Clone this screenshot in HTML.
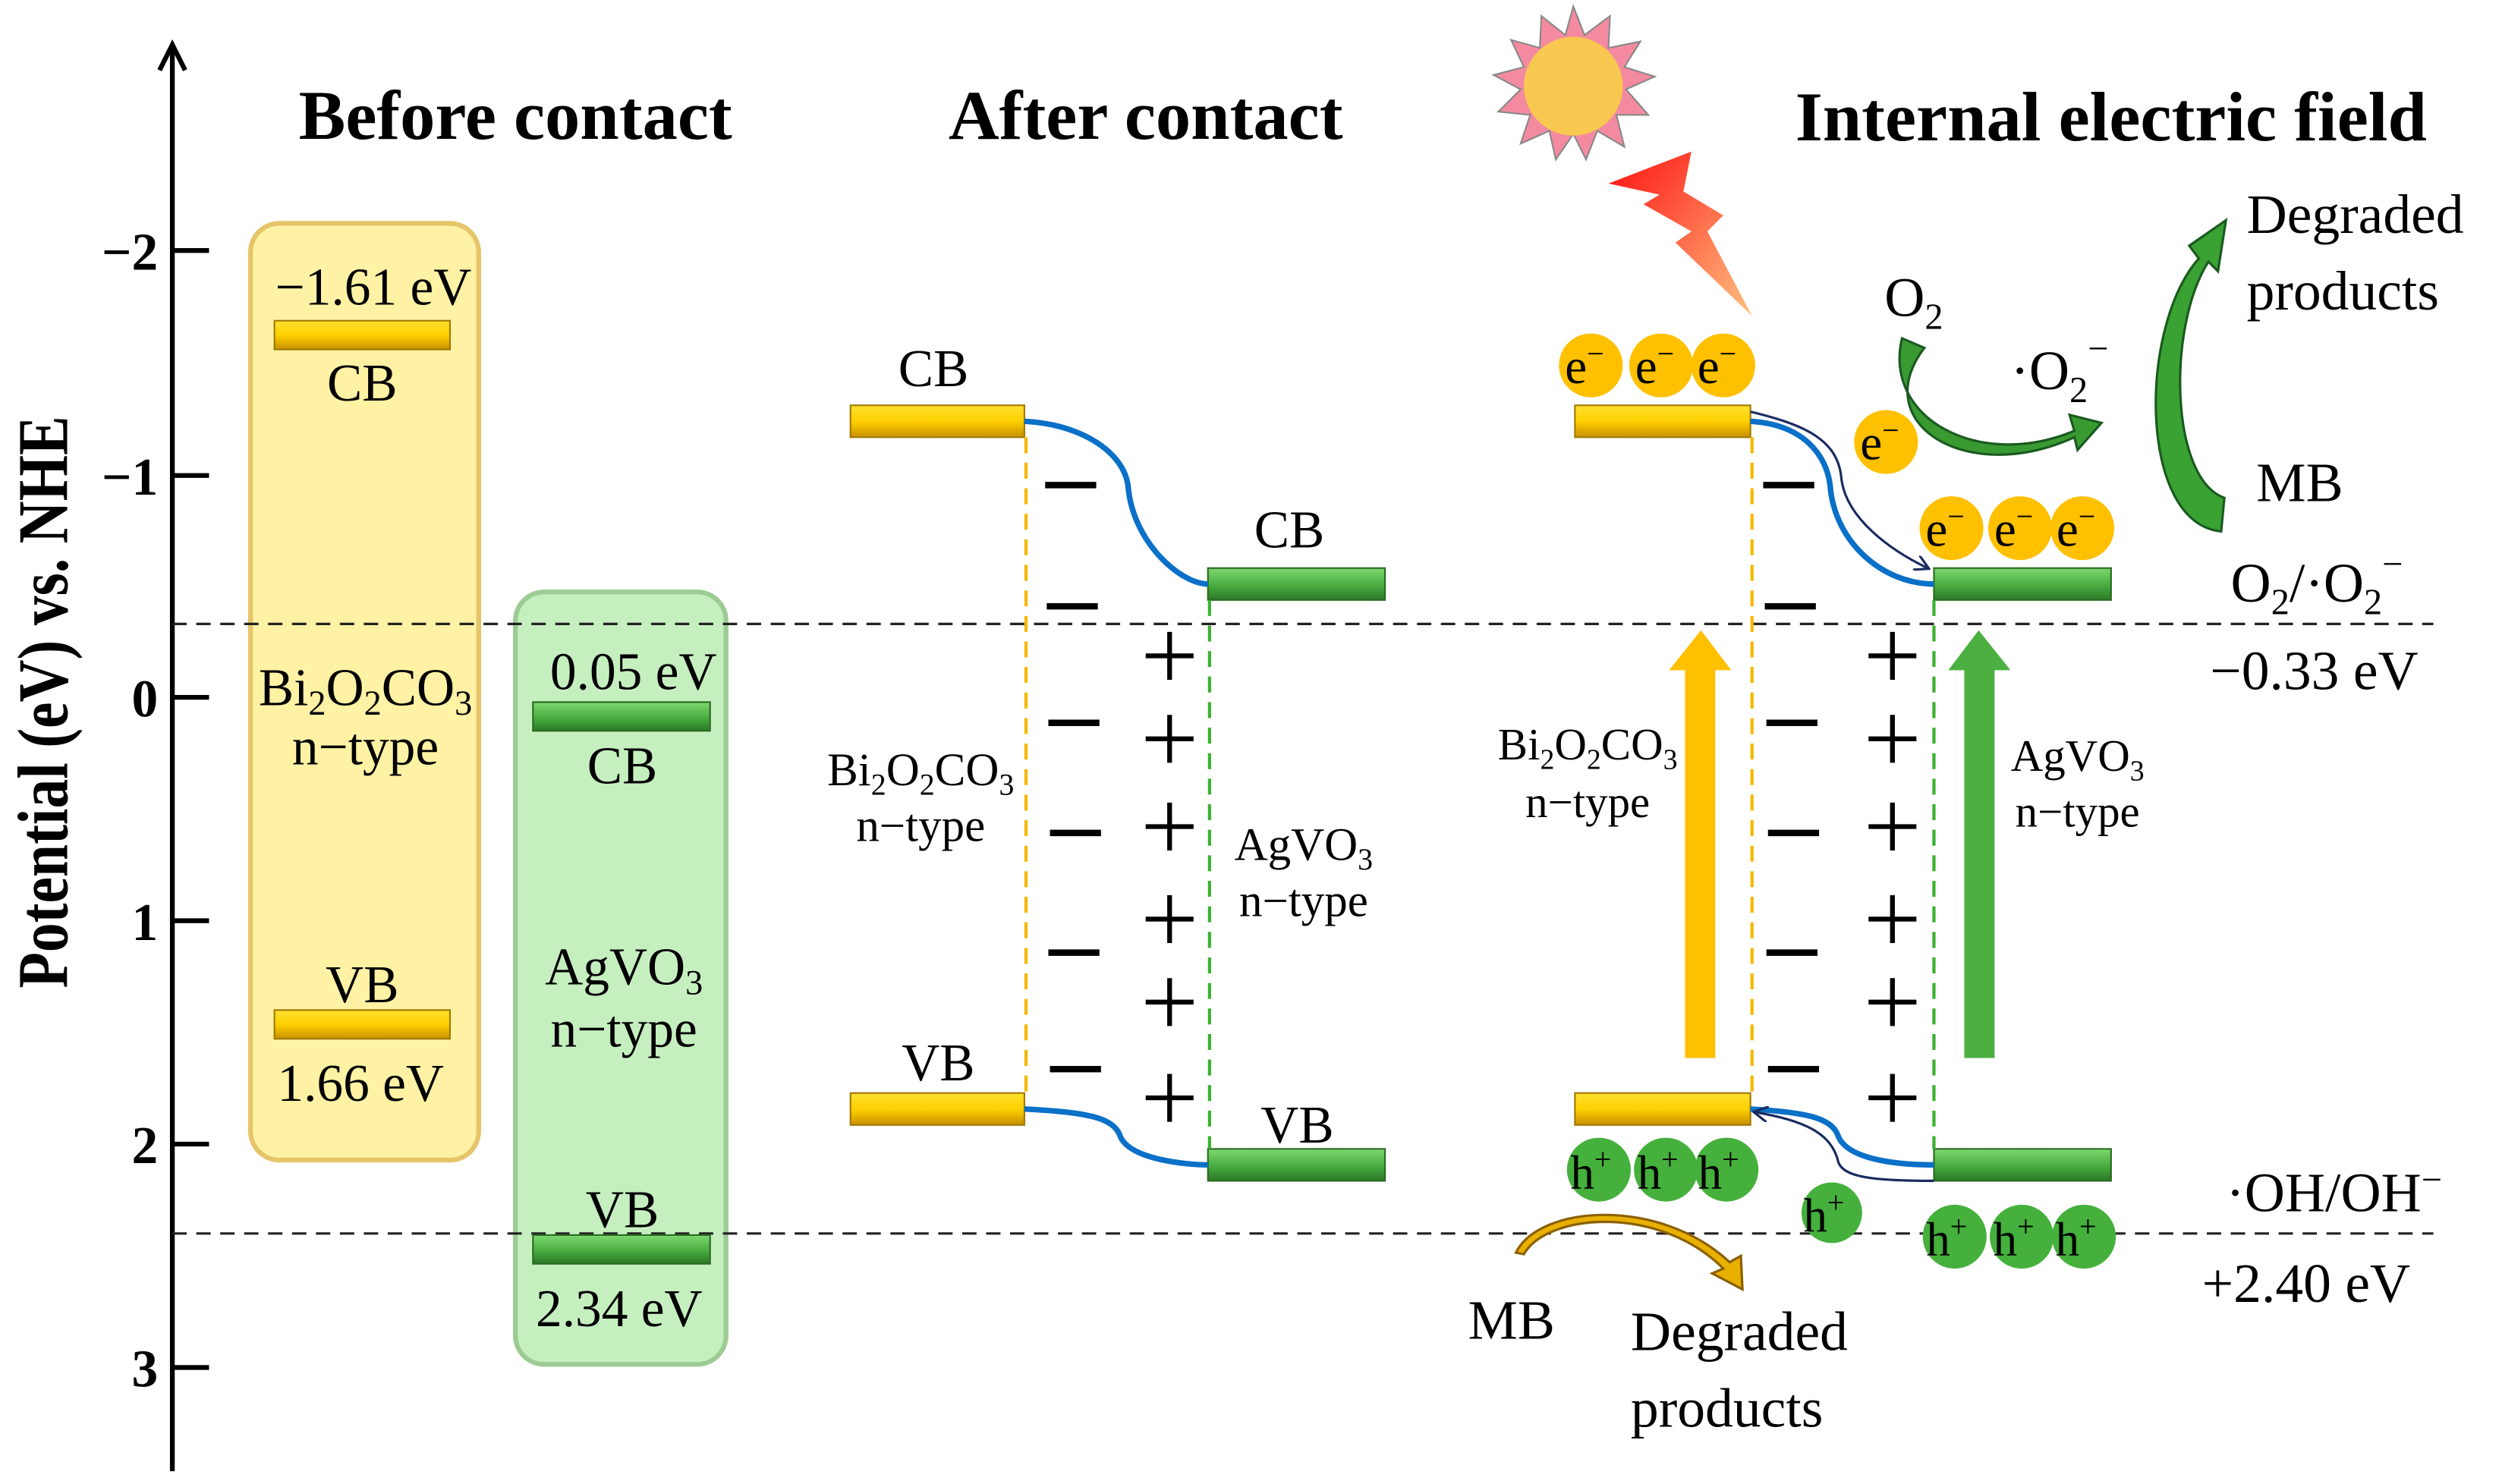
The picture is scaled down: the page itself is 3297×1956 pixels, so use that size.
<!DOCTYPE html>
<html><head><meta charset="utf-8"><style>
html,body{margin:0;padding:0;background:#fff;}
svg{display:block;}
text{font-family:"Liberation Serif",serif;fill:#000;}
</style></head><body>
<svg width="3297" height="1956" viewBox="0 0 1568 930" preserveAspectRatio="none" xmlns="http://www.w3.org/2000/svg">
<defs>
<linearGradient id="yb" x1="0" y1="0" x2="0" y2="1"><stop offset="0" stop-color="#ffe030"/><stop offset="0.5" stop-color="#ffd000"/><stop offset="1" stop-color="#c89000"/></linearGradient>
<linearGradient id="gb" x1="0" y1="0" x2="0" y2="1"><stop offset="0" stop-color="#7ed870"/><stop offset="0.5" stop-color="#4cb044"/><stop offset="1" stop-color="#2a7a26"/></linearGradient>
<linearGradient id="bolt" x1="0" y1="0" x2="1" y2="1"><stop offset="0" stop-color="#ff1010"/><stop offset="1" stop-color="#ffc080"/></linearGradient>
<marker id="ah" markerWidth="10" markerHeight="10" refX="8" refY="5" orient="auto" markerUnits="userSpaceOnUse"><path d="M0,0 L9,5 L0,10" fill="none" stroke="#1a2a60" stroke-width="1.5"/></marker>
</defs>

<line x1="108" y1="30" x2="108" y2="922" stroke="#000" stroke-width="3"/>
<path d="M100,44 L108,28 L116,44" fill="none" stroke="#000" stroke-width="3"/>
<g stroke="#000" stroke-width="3">
<line x1="108" y1="157" x2="131" y2="157"/><line x1="108" y1="298" x2="131" y2="298"/>
<line x1="108" y1="437" x2="131" y2="437"/><line x1="108" y1="577" x2="131" y2="577"/>
<line x1="108" y1="717" x2="131" y2="717"/><line x1="108" y1="857" x2="131" y2="857"/>
</g>
<g font-weight="bold" font-size="33" text-anchor="end">
<text x="99" y="169">−2</text><text x="99" y="310">−1</text><text x="99" y="449">0</text>
<text x="99" y="589">1</text><text x="99" y="729">2</text><text x="99" y="869">3</text>
</g>
<text transform="translate(42,440) rotate(-90) scale(0.82,1)" font-weight="bold" font-size="45" text-anchor="middle">Potential (eV) vs. NHE</text>

<g font-weight="bold" font-size="44" text-anchor="middle">
<text x="323" y="87">Before contact</text>
<text x="718" y="87">After contact</text>
<text x="1323" y="88">Internal electric field</text>
</g>

<rect x="157" y="140" width="143" height="587" rx="18" fill="#fff2a4" stroke="#e6c46a" stroke-width="3"/>
<rect x="323" y="371" width="132" height="484" rx="18" fill="#c6efc0" stroke="#9ccc94" stroke-width="3"/>

<line x1="108" y1="391" x2="1525" y2="391" stroke="#222" stroke-width="1.5" stroke-dasharray="9,6"/>
<line x1="108" y1="773" x2="1525" y2="773" stroke="#222" stroke-width="1.5" stroke-dasharray="9,6"/>

<rect x="172" y="201" width="110" height="18" fill="url(#yb)" stroke="#a07800"/>
<rect x="172" y="633" width="110" height="18" fill="url(#yb)" stroke="#a07800"/>
<rect x="334" y="440" width="111" height="18" fill="url(#gb)" stroke="#2a6a20"/>
<rect x="334" y="774" width="111" height="18" fill="url(#gb)" stroke="#2a6a20"/>
<g font-size="33" text-anchor="middle">
<text x="234" y="191">−1.61 eV</text><text x="227" y="251">CB</text>
<text x="227" y="628">VB</text><text x="226" y="690">1.66 eV</text>
<text x="229" y="442">Bi<tspan font-size="22" dy="6">2</tspan><tspan dy="-6">O</tspan><tspan font-size="22" dy="6">2</tspan><tspan dy="-6">CO</tspan><tspan font-size="22" dy="6">3</tspan></text>
<text x="229" y="479">n−type</text>
<text x="397" y="432">0.05 eV</text><text x="390" y="491">CB</text>
<text x="391" y="617">AgVO<tspan font-size="22" dy="6">3</tspan></text><text x="391" y="656">n−type</text>
<text x="390" y="769">VB</text><text x="388" y="831">2.34 eV</text>
</g>

<rect x="533" y="254" width="109" height="20" fill="url(#yb)" stroke="#a07800"/>
<rect x="533" y="685" width="109" height="20" fill="url(#yb)" stroke="#a07800"/>
<rect x="757" y="356" width="111" height="20" fill="url(#gb)" stroke="#2a6a20"/>
<rect x="757" y="720" width="111" height="20" fill="url(#gb)" stroke="#2a6a20"/>
<path d="M642,264 C680,266 705,285 707,305 C710,340 740,366 757,366" fill="none" stroke="#0a70c8" stroke-width="3.5"/>
<path d="M642,695 C680,697 698,700 702,712 C708,727 745,730 757,730" fill="none" stroke="#0a70c8" stroke-width="3.5"/>
<line x1="643" y1="274" x2="643" y2="685" stroke="#f5b800" stroke-width="2" stroke-dasharray="10,6"/>
<line x1="758" y1="376" x2="758" y2="720" stroke="#3cb030" stroke-width="2" stroke-dasharray="10,6"/>
<g font-size="33" text-anchor="middle">
<text x="585" y="242">CB</text><text x="588" y="677">VB</text>
<text x="808" y="343">CB</text><text x="813" y="716">VB</text>
<text x="577" y="492" font-size="29">Bi<tspan font-size="19" dy="6">2</tspan><tspan dy="-6">O</tspan><tspan font-size="19" dy="6">2</tspan><tspan dy="-6">CO</tspan><tspan font-size="19" dy="6">3</tspan></text>
<text x="577" y="527" font-size="29">n−type</text>
<text x="817" y="539" font-size="29">AgVO<tspan font-size="19" dy="6">3</tspan></text>
<text x="817" y="574" font-size="29">n−type</text>
</g>
<g stroke="#000" stroke-width="4">
<line x1="655" y1="304" x2="687" y2="304"/><line x1="656" y1="380" x2="688" y2="380"/>
<line x1="657" y1="453" x2="689" y2="453"/><line x1="658" y1="522" x2="690" y2="522"/>
<line x1="657" y1="597" x2="689" y2="597"/><line x1="658" y1="670" x2="690" y2="670"/>
</g>
<g stroke="#000" stroke-width="3">
<line x1="718" y1="411" x2="748" y2="411"/><line x1="733" y1="396" x2="733" y2="426"/>
<line x1="718" y1="463" x2="748" y2="463"/><line x1="733" y1="448" x2="733" y2="478"/>
<line x1="718" y1="518" x2="748" y2="518"/><line x1="733" y1="503" x2="733" y2="533"/>
<line x1="718" y1="576" x2="748" y2="576"/><line x1="733" y1="561" x2="733" y2="591"/>
<line x1="718" y1="628" x2="748" y2="628"/><line x1="733" y1="613" x2="733" y2="643"/>
<line x1="718" y1="688" x2="748" y2="688"/><line x1="733" y1="673" x2="733" y2="703"/>
</g>

<rect x="987" y="254" width="110" height="20" fill="url(#yb)" stroke="#a07800"/>
<rect x="987" y="685" width="110" height="20" fill="url(#yb)" stroke="#a07800"/>
<rect x="1212" y="356" width="111" height="20" fill="url(#gb)" stroke="#2a6a20"/>
<rect x="1212" y="720" width="111" height="20" fill="url(#gb)" stroke="#2a6a20"/>
<line x1="1098" y1="274" x2="1098" y2="685" stroke="#f5b800" stroke-width="2" stroke-dasharray="10,6"/>
<line x1="1212" y1="376" x2="1212" y2="720" stroke="#3cb030" stroke-width="2" stroke-dasharray="10,6"/>
<path d="M1097,264 C1130,266 1145,285 1147,305 C1150,340 1180,366 1212,366" fill="none" stroke="#0a70c8" stroke-width="3.5"/>
<path d="M1097,258 C1130,266 1152,275 1154,300 C1157,325 1185,345 1208,356" fill="none" stroke="#1a2a60" stroke-width="1.5" marker-end="url(#ah)"/>
<path d="M1097,695 C1130,697 1148,700 1152,712 C1158,727 1190,730 1212,730" fill="none" stroke="#0a70c8" stroke-width="3.5"/>
<path d="M1212,740 C1175,740 1155,738 1152,728 C1148,710 1130,702 1100,697" fill="none" stroke="#1a2a60" stroke-width="1.5" marker-end="url(#ah)"/>
<g stroke="#000" stroke-width="4">
<line x1="1105" y1="304" x2="1137" y2="304"/><line x1="1106" y1="380" x2="1138" y2="380"/>
<line x1="1107" y1="453" x2="1139" y2="453"/><line x1="1108" y1="522" x2="1140" y2="522"/>
<line x1="1107" y1="597" x2="1139" y2="597"/><line x1="1108" y1="670" x2="1140" y2="670"/>
</g>
<g stroke="#000" stroke-width="3">
<line x1="1171" y1="411" x2="1201" y2="411"/><line x1="1186" y1="396" x2="1186" y2="426"/>
<line x1="1171" y1="463" x2="1201" y2="463"/><line x1="1186" y1="448" x2="1186" y2="478"/>
<line x1="1171" y1="518" x2="1201" y2="518"/><line x1="1186" y1="503" x2="1186" y2="533"/>
<line x1="1171" y1="576" x2="1201" y2="576"/><line x1="1186" y1="561" x2="1186" y2="591"/>
<line x1="1171" y1="628" x2="1201" y2="628"/><line x1="1186" y1="613" x2="1186" y2="643"/>
<line x1="1171" y1="688" x2="1201" y2="688"/><line x1="1186" y1="673" x2="1186" y2="703"/>
</g>
<polygon points="1056,663 1075,663 1075,420 1085,420 1066,395 1046,420 1056,420" fill="#ffc000"/>
<polygon points="1231,663 1250,663 1250,420 1260,420 1240,395 1221,420 1231,420" fill="#4cb040"/>
<g font-size="28" text-anchor="middle">
<text x="995" y="476">Bi<tspan font-size="18" dy="6">2</tspan><tspan dy="-6">O</tspan><tspan font-size="18" dy="6">2</tspan><tspan dy="-6">CO</tspan><tspan font-size="18" dy="6">3</tspan></text>
<text x="995" y="512">n−type</text>
<text x="1302" y="483">AgVO<tspan font-size="18" dy="6">3</tspan></text>
<text x="1302" y="518">n−type</text>
</g>
<g fill="#ffc000">
<circle cx="997" cy="229" r="20"/><circle cx="1041" cy="229" r="20"/><circle cx="1080" cy="229" r="20"/>
<circle cx="1182" cy="277" r="20"/>
<circle cx="1223" cy="331" r="20"/><circle cx="1266" cy="331" r="20"/><circle cx="1305" cy="331" r="20"/>
</g>
<g font-size="31" text-anchor="middle">
<text x="993" y="240">e<tspan font-size="19" dy="-12">−</tspan></text>
<text x="1037" y="240">e<tspan font-size="19" dy="-12">−</tspan></text>
<text x="1076" y="240">e<tspan font-size="19" dy="-12">−</tspan></text>
<text x="1178" y="288">e<tspan font-size="19" dy="-12">−</tspan></text>
<text x="1219" y="342">e<tspan font-size="19" dy="-12">−</tspan></text>
<text x="1262" y="342">e<tspan font-size="19" dy="-12">−</tspan></text>
<text x="1301" y="342">e<tspan font-size="19" dy="-12">−</tspan></text>
</g>
<g fill="#45b03c">
<circle cx="1002" cy="733" r="20"/><circle cx="1044" cy="733" r="20"/><circle cx="1082" cy="733" r="20"/>
<circle cx="1148" cy="760" r="19"/>
<circle cx="1225" cy="775" r="20"/><circle cx="1267" cy="775" r="20"/><circle cx="1306" cy="775" r="20"/>
</g>
<g font-size="30" text-anchor="middle">
<text x="997" y="745">h<tspan font-size="19" dy="-12">+</tspan></text>
<text x="1039" y="745">h<tspan font-size="19" dy="-12">+</tspan></text>
<text x="1077" y="745">h<tspan font-size="19" dy="-12">+</tspan></text>
<text x="1143" y="772">h<tspan font-size="19" dy="-12">+</tspan></text>
<text x="1220" y="787">h<tspan font-size="19" dy="-12">+</tspan></text>
<text x="1262" y="787">h<tspan font-size="19" dy="-12">+</tspan></text>
<text x="1301" y="787">h<tspan font-size="19" dy="-12">+</tspan></text>
</g>
<polygon points="986,4 993,22 1009,10 1008,30 1028,26 1018,42 1037,48 1019,56 1033,72 1013,72 1018,92 1001,82 994,100 986,84 975,100 971,82 953,90 959,72 939,70 953,56 936,47 955,42 947,25 965,30 966,10 981,22" fill="#f48aa0" stroke="#888" stroke-width="1"/>
<circle cx="986" cy="54" r="31" fill="#f8c850"/>
<polygon points="1008,115 1060,95 1055,120 1080,135 1070,145 1098,198 1050,152 1060,145 1030,128 1040,122" fill="url(#bolt)"/>
<text x="1181" y="198" font-size="35">O<tspan font-size="23" dy="8">2</tspan></text>
<text x="1260" y="244" font-size="35">·O<tspan font-size="23" dy="8">2</tspan><tspan font-size="23" dy="-26">−</tspan></text>
<path d="M1192,212 C1180,262 1240,295 1300,270 L1297,260 L1317,265 L1302,282 L1300,274 C1232,305 1170,265 1206,218 Z" fill="#3a9a32" stroke="#1a5a20" stroke-width="1.5"/>
<path d="M1392,333 C1340,328 1340,205 1378,162 L1372,154 L1395,138 L1390,170 L1384,164 C1358,205 1360,300 1394,312 Z" fill="#3aa232" stroke="#1a5a20" stroke-width="1.5"/>
<g font-size="35">
<text x="1408" y="146">Degraded</text><text x="1408" y="194">products</text>
<text x="1414" y="314">MB</text>
<text x="1398" y="377">O<tspan font-size="23" dy="8">2</tspan><tspan dy="-8">/·O</tspan><tspan font-size="23" dy="8">2</tspan><tspan font-size="23" dy="-24">−</tspan></text>
<text x="1385" y="432">−0.33 eV</text>
<text x="1395" y="759">·OH/OH<tspan font-size="23" dy="-12">−</tspan></text>
<text x="1380" y="816">+2.40 eV</text>
<text x="920" y="839">MB</text>
<text x="1022" y="846">Degraded</text><text x="1022" y="894">products</text>
</g>
<path d="M955,786 C970,760 1040,755 1080,795 L1073,798 L1092,808 L1091,787 L1084,791 C1040,750 965,755 950,785 Z" fill="#e8b000" stroke="#8a6000" stroke-width="1.5"/>
</svg>
</body></html>
